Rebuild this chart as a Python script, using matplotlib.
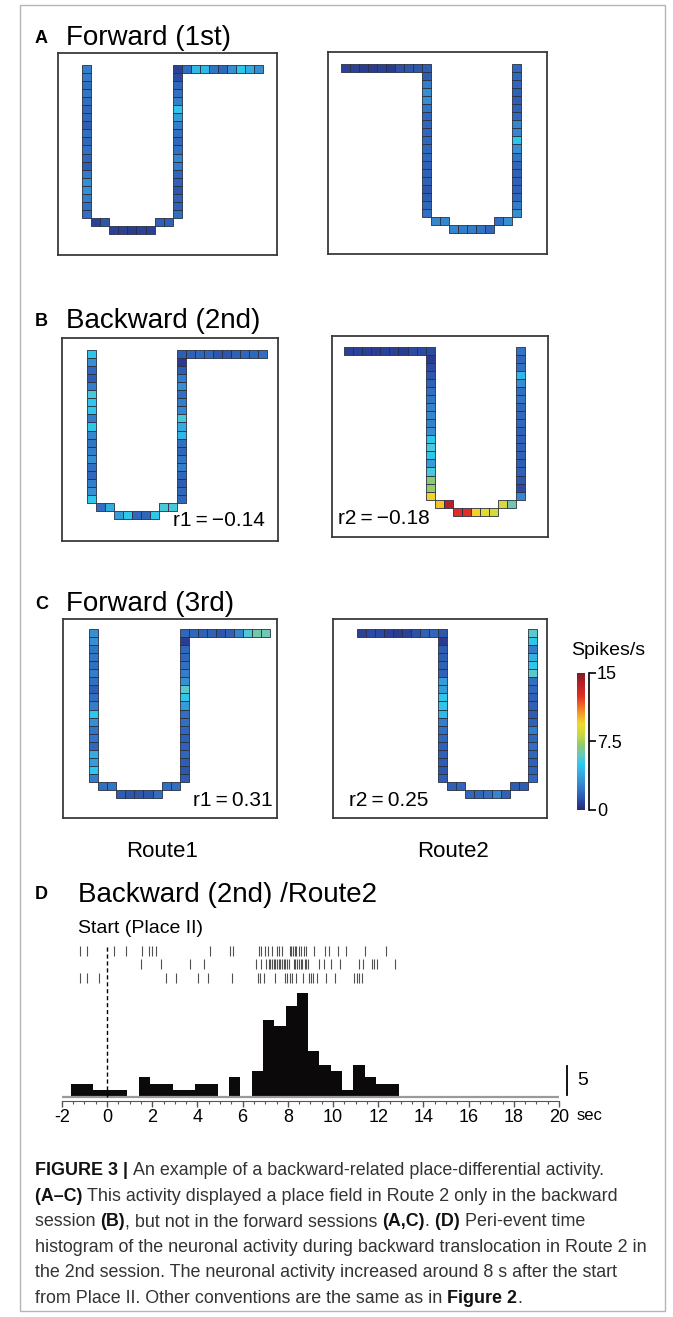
import numpy as np
import matplotlib
matplotlib.use("Agg")
import matplotlib.pyplot as plt
from matplotlib.colors import LinearSegmentedColormap, Normalize
from matplotlib.patches import Rectangle
from matplotlib.collections import PatchCollection
from matplotlib.cm import ScalarMappable
from matplotlib import font_manager

W, H = 673, 1317
plt.rcParams['font.family'] = ['Liberation Sans', 'DejaVu Sans']
plt.rcParams['axes.unicode_minus'] = False

# ---- firing-rate maps (spikes/s), one value per track square ----
# route1 order: left column (top->bottom), left step, bottom, right step, right column (top->bottom), top arm
# route2 order: top arm, left column (top->bottom), left step, bottom, right step, right column (top->bottom)
a_route1 = [2.5, 2.4, 2.0, 2.2, 2.0, 1.8, 1.8, 1.5, 2.0, 1.8, 2.0, 1.8, 1.5, 2.4, 3.0, 3.0, 2.5, 2.0, 2.0,
            0.8, 1.3,
            0.8, 0.8, 0.6, 0.8, 0.8,
            1.6, 1.6,
            0.8, 1.0, 1.8, 2.0, 2.5, 5.0, 3.5, 2.5, 2.0, 1.8, 2.0, 2.8, 2.5, 1.8, 1.6, 1.3, 1.6, 1.6, 2.0,
            2.0, 4.5, 4.5, 2.2, 1.8, 3.0, 5.0, 4.0, 3.0]
a_route2 = [0.8, 0.8, 0.6, 0.6, 0.8, 0.6, 1.2, 1.3, 1.3,
            1.5, 1.5, 2.5, 3.0, 3.0, 2.2, 1.8, 1.8, 1.8, 1.8, 1.8, 1.8, 1.6, 1.6, 1.6, 1.3, 1.5, 1.8, 2.0,
            2.8, 2.8,
            2.8, 2.5, 2.5, 2.2, 1.8,
            2.0, 3.0,
            1.8, 1.8, 1.8, 1.6, 1.5, 1.6, 1.8, 2.8, 2.8, 5.0, 3.0, 2.2, 1.8, 1.6, 1.6, 1.6, 1.8, 2.5, 3.0]
b_route1 = [5.0, 3.0, 1.8, 1.5, 2.5, 5.5, 5.0, 5.0, 2.5, 5.0, 2.8, 2.2, 2.5, 3.0, 2.0, 1.8, 2.5, 3.0, 5.0,
            2.0, 4.0,
            3.5, 5.0, 1.8, 1.8, 5.0,
            5.5, 5.5,
            1.5, 0.6, 1.5, 2.5, 3.0, 2.0, 2.5, 2.8, 5.5, 4.0, 4.5, 2.0, 1.8, 2.2, 2.5, 1.8, 1.5, 1.8, 1.8,
            1.6, 1.8, 1.8, 1.3, 1.3, 1.6, 1.8, 1.8, 2.0]
b_route2 = [0.8, 0.8, 0.8, 0.7, 0.8, 0.8, 0.7, 1.0, 1.0,
            1.0, 0.6, 1.0, 1.3, 1.6, 2.0, 2.2, 2.6, 2.8, 2.6, 3.0, 5.0, 5.5, 5.0, 3.5, 5.5, 7.0, 7.2, 9.5,
            9.8, 13.8,
            12.5, 12.5, 9.6, 9.0, 8.5,
            8.6, 6.3,
            2.2, 1.8, 2.0, 4.5, 3.0, 2.0, 2.2, 1.8, 1.8, 1.8, 1.6, 1.6, 1.6, 1.6, 1.5, 1.6, 1.3, 1.0, 2.8]
c_route1 = [3.0, 3.0, 2.2, 2.2, 2.0, 2.5, 2.0, 1.5, 2.0, 2.5, 5.0, 3.0, 2.2, 2.2, 1.8, 4.0, 3.5, 5.0, 2.5,
            2.0, 2.2,
            1.5, 1.3, 1.3, 1.3, 2.0,
            2.0, 2.0,
            1.8, 0.7, 1.8, 1.8, 2.0, 2.5, 3.0, 5.8, 5.0, 3.5, 2.0, 2.0, 1.8, 1.6, 1.6, 1.8, 1.5, 1.3, 1.5,
            1.8, 1.6, 1.6, 1.3, 1.6, 2.8, 5.6, 6.3, 6.2]
c_route2 = [0.8, 1.0, 1.0, 0.8, 0.6, 0.8, 1.2, 1.6, 1.8,
            1.3, 0.6, 1.5, 1.5, 1.6, 1.6, 3.5, 3.5, 5.0, 5.0, 4.5, 2.5, 2.0, 1.8, 1.6, 1.6, 1.5, 1.3, 1.5,
            1.6, 1.8,
            1.8, 1.8, 2.0, 2.8, 1.6,
            1.5, 1.5,
            5.8, 5.0, 2.5, 4.2, 5.0, 5.8, 2.0, 1.8, 1.6, 1.6, 1.5, 1.6, 2.5, 1.8, 2.0, 1.8, 1.6, 1.6, 1.8]
r_labels = {'b1': 'r1\u2009=\u2009\u22120.14', 'b2': 'r2\u2009=\u2009\u22120.18',
            'c1': 'r1\u2009=\u20090.31', 'c2': 'r2\u2009=\u20090.25'}

# ---- peri-event histogram (0.5 s bins) and raster ----
bin_left = [-1.6, -1.1, -0.6, -0.1, 0.4, 0.9, 1.4, 1.9, 2.4, 2.9, 3.4, 3.9, 4.4, 4.9, 5.4,
            5.9, 6.4, 6.9, 7.4, 7.9, 8.4, 8.9, 9.4, 9.9, 10.4, 10.9, 11.4, 11.9, 12.4]
bin_rate = [2.35, 2.35, 1.15, 1.15, 1.15, 0, 3.45, 2.35, 2.35, 1.15, 1.15, 2.35, 2.35, 0, 3.45,
            0, 4.6, 13.6, 12.5, 15.9, 18.2, 8.0, 5.7, 4.6, 1.15, 5.7, 3.45, 2.35, 2.35]
trial1 = [-1.19, -0.90, 0.32, 0.83, 1.53, 1.85, 1.99, 2.16, 4.55, 5.43, 5.58,
          6.72, 6.83, 6.98, 7.12, 7.32, 7.52, 7.61, 7.76, 8.08, 8.15, 8.23, 8.30, 8.38, 8.49,
          8.60, 8.71, 8.79, 9.14, 9.63, 9.82, 10.21, 10.58, 11.43, 12.34]
trial2 = [1.49, 2.38, 3.66, 4.30, 6.61, 6.83, 7.05, 7.15, 7.23, 7.30, 7.37, 7.45, 7.52, 7.59,
          7.67, 7.74, 7.81, 7.89, 7.96, 8.04, 8.27, 8.34, 8.42, 8.49, 8.57, 8.64, 8.74, 8.82,
          8.89, 9.40, 9.62, 9.89, 10.33, 11.14, 11.32, 11.73, 11.83, 11.95, 12.76]
trial3 = [-1.19, -0.90, -0.34, 2.60, 3.05, 4.03, 4.47, 5.53, 6.68, 6.79, 6.93, 7.42, 7.86,
          7.96, 8.08, 8.20, 8.38, 8.67, 8.92, 9.01, 9.11, 9.30, 9.70, 10.07, 10.95, 11.07,
          11.17, 11.27]
x_ticks = [-2, 0, 2, 4, 6, 8, 10, 12, 14, 16, 18, 20]
x_ticklabels = ['-2', '0', '2', '4', '6', '8', '10', '12', '14', '16', '18', '20']

# ---- track geometry (column, row) of each square ----
route1_cells = ([(0, r) for r in range(19)] + [(1, 19), (2, 19)] + [(c, 20) for c in range(3, 8)]
                + [(8, 19), (9, 19)] + [(10, r) for r in range(19)] + [(c, 0) for c in range(11, 20)])
route2_cells = ([(c, 0) for c in range(9)] + [(9, r) for r in range(19)] + [(10, 19), (11, 19)]
                + [(c, 20) for c in range(12, 17)] + [(17, 19), (18, 19)] + [(19, r) for r in range(19)])

# print-style (slightly muted) jet
cmap = LinearSegmentedColormap.from_list('printjet', [
    (0.00, (0.15, 0.18, 0.45)), (0.05, (0.17, 0.25, 0.59)), (0.10, (0.18, 0.37, 0.71)),
    (0.14, (0.19, 0.45, 0.77)), (0.20, (0.21, 0.56, 0.82)), (0.27, (0.20, 0.68, 0.89)),
    (0.33, (0.17, 0.78, 0.93)), (0.40, (0.40, 0.79, 0.76)), (0.47, (0.56, 0.79, 0.44)),
    (0.55, (0.80, 0.85, 0.25)), (0.63, (0.95, 0.85, 0.16)), (0.72, (0.96, 0.55, 0.15)),
    (0.83, (0.89, 0.18, 0.15)), (0.93, (0.70, 0.12, 0.15)), (1.00, (0.50, 0.10, 0.14))])
norm = Normalize(0, 15)

fig = plt.figure(figsize=(W / 100, H / 100), dpi=100)
CW, CH = 9.03, 8.05


def px_axes(x0, y0, x1, y1):
    return fig.add_axes([x0 / W, 1 - y1 / H, (x1 - x0) / W, (y1 - y0) / H])


def track(box, grid0, cells, values):
    x0, y0, x1, y1 = box
    gx, gy = grid0
    ax = px_axes(x0, y0, x1, y1)
    pc = PatchCollection([Rectangle((c, r), 1, 1) for c, r in cells], cmap=cmap, norm=norm,
                         edgecolor='#2a2f40', linewidth=0.6)
    pc.set_array(np.asarray(values))
    ax.add_collection(pc)
    ax.set_xlim(-(gx - x0) / CW, (x1 - gx) / CW)
    ax.set_ylim((y1 - gy) / CH, -(gy - y0) / CH)
    ax.set_xticks([])
    ax.set_yticks([])
    for s in ax.spines.values():
        s.set_linewidth(1.3)
        s.set_color('#3a3a3a')
    return ax


def ftext(x, y, s, **kw):
    return fig.text(x / W, 1 - y / H, s, **kw)


track((58.3, 52.7, 276.7, 255), (82.3, 65), route1_cells, a_route1)
track((327.7, 51.7, 546.7, 254), (340.7, 64), route2_cells, a_route2)
track((61.7, 338.3, 278.3, 541), (86.7, 350), route1_cells, b_route1)
track((331.7, 335.7, 547.7, 537.3), (344.3, 346.7), route2_cells, b_route2)
track((63.3, 619, 277, 818), (89.3, 629), route1_cells, c_route1)
track((333.3, 619, 547, 818), (356.7, 629), route2_cells, c_route2)

ftext(265, 526, r_labels['b1'], fontsize=15, ha='right', va='baseline')
ftext(338, 524, r_labels['b2'], fontsize=15, ha='left', va='baseline')
ftext(273, 806, r_labels['c1'], fontsize=15, ha='right', va='baseline')
ftext(349, 806, r_labels['c2'], fontsize=15, ha='left', va='baseline')

# panel headings
for letter, title, y in [('A', 'Forward (1st)', 45), ('B', 'Backward (2nd)', 328),
                         ('C', 'Forward (3rd)', 611)]:
    ftext(35, y - 2, letter, fontsize=13, fontweight='bold', va='baseline')
    ftext(66, y, title, fontsize=20, va='baseline')
ftext(162, 857, 'Route1', fontsize=16, ha='center', va='baseline')
ftext(453, 857, 'Route2', fontsize=16, ha='center', va='baseline')
ftext(35, 899, 'D', fontsize=13, fontweight='bold', va='baseline')
ftext(78, 902, 'Backward (2nd) /Route2', fontsize=20, va='baseline')
ftext(78, 933, 'Start (Place II)', fontsize=14, va='baseline')

# colour bar with bracket scale
cax = px_axes(576.7, 672.7, 585, 810)
cb = fig.colorbar(ScalarMappable(norm=norm, cmap=cmap), cax=cax)
cb.outline.set_visible(False)
cb.set_ticks([])
bax = px_axes(586, 672.7, 588.5, 810)
bax.set_ylim(0, 15)
bax.patch.set_visible(False)
for k in ['left', 'top', 'bottom']:
    bax.spines[k].set_visible(False)
bax.spines['right'].set_linewidth(1.2)
bax.set_xticks([])
bax.yaxis.tick_right()
bax.set_yticks([0, 7.5, 15])
bax.set_yticklabels(['0', '7.5', '15'])
bax.tick_params(axis='y', direction='out', length=5, width=1.2, pad=1, labelsize=13)
ftext(608, 655, 'Spikes/s', fontsize=14, ha='center', va='baseline')

# peri-event histogram + raster
dax = px_axes(61.8, 938, 559, 1101)
dax.bar(bin_left, bin_rate, width=0.5, align='edge', color='#0b0909', linewidth=0)
dax.plot([-2, 20], [0, 0], color='#9a9a9a', lw=1.6, solid_capstyle='butt')
dax.eventplot([trial1, trial2, trial3], lineoffsets=[25.6, 23.3, 20.9], linelengths=1.75,
              colors='#505050', linewidths=0.8)
dax.vlines(0, 0, 26.4, colors='k', linestyles=(0, (3, 2)), lw=1)
dax.set_xlim(-2, 20)
dax.set_ylim(-0.7, 27.9)
dax.patch.set_visible(False)
for k in ['left', 'top', 'right']:
    dax.spines[k].set_visible(False)
dax.spines['bottom'].set_color('#555555')
dax.set_yticks([])
dax.set_xticks(x_ticks)
dax.set_xticklabels(x_ticklabels)
dax.set_xticks(np.arange(-2, 20.01, 0.5), minor=True)
dax.tick_params(axis='x', which='major', length=4, width=1, color='#555555', pad=1.5, labelsize=13)
dax.tick_params(axis='x', which='minor', length=2.5, width=0.8, color='#555555')
dax.plot([20.35, 20.35], [0.4, 5.4], color='k', lw=1.3, clip_on=False)
dax.text(20.8, 2.9, '5', fontsize=14, va='center', ha='left', clip_on=False)
ftext(577, 1115, 'sec', fontsize=12, va='center', ha='left')

# caption
names = {f.name for f in font_manager.fontManager.ttflist}
cap_font = 'Liberation Sans Narrow' if 'Liberation Sans Narrow' in names else 'Liberation Sans'
renderer = fig.canvas.get_renderer()
probe = ftext(0, 0, 'histogram of the neuronal activity during backward translocation in Route 2 in',
              fontsize=12, family=cap_font)
cap_size = 12 * 615 / probe.get_window_extent(renderer=renderer).width
probe.remove()

caption = [
    [('FIGURE 3 | ', 'bold'), ('An example of a backward-related place-differential activity.', 'normal')],
    [('(A\u2013C) ', 'bold'), ('This activity displayed a place field in Route 2 only in the backward', 'normal')],
    [('session ', 'normal'), ('(B)', 'bold'), (', but not in the forward sessions ', 'normal'),
     ('(A,C)', 'bold'), ('. ', 'normal'), ('(D) ', 'bold'), ('Peri-event time', 'normal')],
    [('histogram of the neuronal activity during backward translocation in Route 2 in', 'normal')],
    [('the 2nd session. The neuronal activity increased around 8 s after the start', 'normal')],
    [('from Place II. Other conventions are the same as in ', 'normal'), ('Figure 2', 'bold'), ('.', 'normal')],
]
for i, parts in enumerate(caption):
    x = 35
    y = 1175 + i * 25.6
    for s, w in parts:
        t = ftext(x, y, s, fontsize=cap_size, fontweight=w, family=cap_font, va='baseline',
                  color='#111111' if w == 'bold' else '#333333')
        x += t.get_window_extent(renderer=renderer).width

fig.add_artist(Rectangle((20 / W, 1 - 1311 / H), 645 / W, 1306 / H, transform=fig.transFigure,
                         fill=False, edgecolor='#b5b5b5', linewidth=1))

fig.savefig('out.png', dpi=100)
